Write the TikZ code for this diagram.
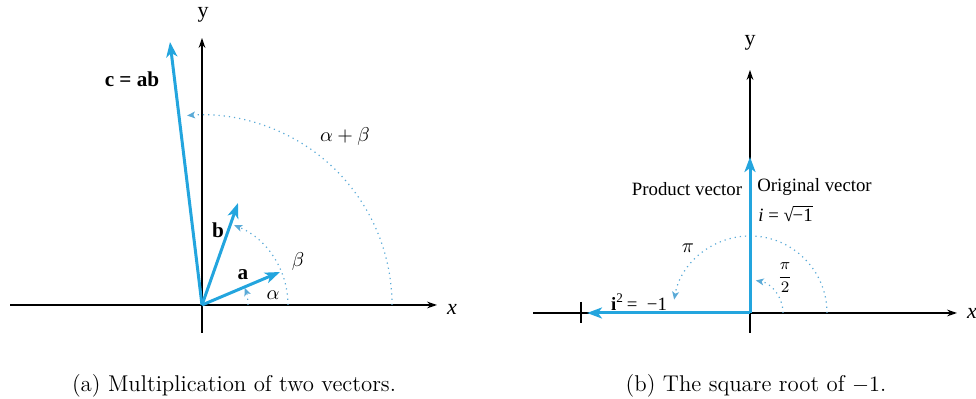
\documentclass[tikz,border=0pt]{standalone}
\usepackage{fontspec}
\newfontfamily\figfont{Liberation Serif}
\usetikzlibrary{arrows.meta}
\definecolor{vecblue}{RGB}{35,165,222}
\definecolor{arcblue}{RGB}{90,170,215}
\tikzset{
  axis/.style={line width=0.7pt, black, -{Stealth[length=5pt,width=3.4pt]}},
  vec/.style={line width=1.5pt, vecblue, -{Stealth[length=7.5pt,width=5.5pt,inset=2pt]}},
  angarc/.style={arcblue, line width=0.6pt, dotted, -{Stealth[length=4pt,width=3.4pt,inset=1pt]}},
  lab/.style={font=\figfont\fontsize{9.4}{11}\selectfont, inner sep=0pt},
  boldlab/.style={font=\figfont\bfseries\fontsize{10.6}{12}\selectfont, inner sep=0pt},
  greek/.style={font=\fontsize{10.4}{12}\selectfont, inner sep=0pt},
  captext/.style={font=\fontsize{11.4}{13}\selectfont, inner sep=0pt}
}
\begin{document}
\begin{tikzpicture}[x=0.5pt,y=0.5pt]
\useasboundingbox (0,0) rectangle (976,399);
% ---------- panel (a) ----------
\coordinate (O1) at (202,94);
\coordinate (XL1) at (10,94);
\coordinate (XR1) at (437,94);
\coordinate (YB1) at (202,66);
\coordinate (YT1) at (202,361);
\draw[line width=0.7pt] (XL1) -- (O1);
\draw[axis] (O1) -- (XR1);
\draw[line width=0.7pt] (YB1) -- (O1);
\draw[axis] (O1) -- (YT1);
\node[lab, font=\figfont\itshape\fontsize{11}{12}\selectfont] (xlab1) at (452,90) {x};
\node[lab, font=\figfont\fontsize{11}{12}\selectfont] (ylab1) at (203,384) {y};
\coordinate (C) at (170,357);
\coordinate (B) at (238,196);
\coordinate (A) at (280,127);
\draw[angarc] (O1) ++(0:46) arc[start angle=0,end angle=22,radius=46];
\draw[angarc] (O1) ++(0:86) arc[start angle=0,end angle=68,radius=86];
\draw[angarc] (O1) ++(0:190) arc[start angle=0,end angle=94.5,radius=190];
\draw[vec] (O1) -- (C);
\draw[vec] (O1) -- (B);
\draw[vec] (O1) -- (A);
\node[boldlab] (clab) at (132,320) {c = ab};
\node[boldlab] (blab) at (218,169) {b};
\node[boldlab] (alab) at (243,124) {a};
\node[greek] (alpha) at (273,104) {$\alpha$};
\node[greek] (beta) at (298,137) {$\beta$};
\node[greek] (ab) at (345,262) {$\alpha+\beta$};
\node[captext] (capa) at (234,13) {(a) Multiplication of two vectors.};
% ---------- panel (b) ----------
\coordinate (O2) at (750,86);
\coordinate (XL2) at (533,86);
\coordinate (XR2) at (957,86);
\coordinate (YB2) at (750,66);
\coordinate (YT2) at (750,329);
\coordinate (T1) at (581,97);
\coordinate (T2) at (581,76);
\draw[line width=0.7pt] (XL2) -- (O2);
\draw[axis] (O2) -- (XR2);
\draw[line width=0.7pt] (YB2) -- (O2);
\draw[axis] (O2) -- (YT2);
\draw[line width=0.9pt] (T1) -- (T2);
\node[lab, font=\figfont\itshape\fontsize{11}{12}\selectfont] (xlab2) at (972,86) {x};
\node[lab, font=\figfont\fontsize{11}{12}\selectfont] (ylab2) at (750,356) {y};
\coordinate (I) at (750,242);
\coordinate (M) at (587,86);
\draw[angarc] (O2) ++(0:77) arc[start angle=0,end angle=170,radius=77];
\draw[angarc] (O2) ++(0:33) arc[start angle=0,end angle=80,radius=33];
\draw[vec] (O2) -- (I);
\draw[vec] (O2) -- (M);
\node[lab] (prod) at (687,210) {Product vector};
\node[lab, anchor=west] (orig) at (757,212) {Original vector};
\node[lab, anchor=west] (sq) at (758,186) {\textit{i} = √\kern-0.6pt$\overline{\hbox{−1}}$};
\node[greek] (pi) at (688,151) {$\pi$};
\node[greek, font=\fontsize{8.4}{10}\selectfont] (pi2) at (785,121) {$\displaystyle\frac{\pi}{2}$};
\node[lab] (i2) at (639,97) {\textbf{i}\textsuperscript{2}\,= \ −1};
\node[captext] (capb) at (756,13) {(b) The square root of $-1$.};
\end{tikzpicture}
\end{document}
